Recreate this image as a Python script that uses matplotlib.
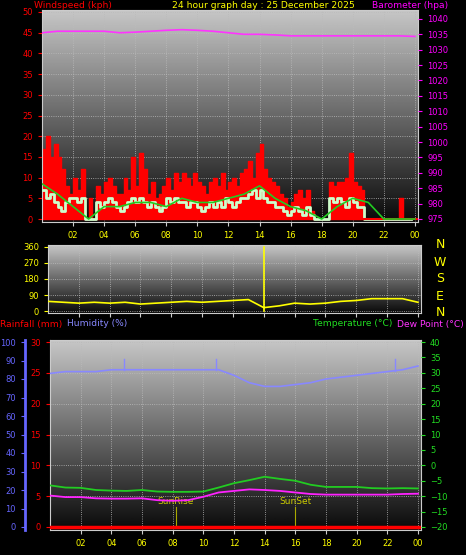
import matplotlib.pyplot as plt
import numpy as np

# wind, 15 minute samples (kph)
gust = [17,20,15,18, 15,12,8,6, 10,7,12,0, 5,0,8,6, 9,10,8,6, 6,10,7,15,
        8,16,12,6, 9,5,6,8, 10,7,11,9, 11,10,8,11, 9,8,6,9, 10,8,11,7,
        9,10,8,11, 12,14,10,16, 18,12,10,9, 8,6,5,3, 4,6,7,5, 7,2,0,0,
        0,0,9,8, 9,9,10,16, 9,8,7,0, 0,0,0,0, 0,0,0,0, 5,0,0,0]
speed = [7,5,6,4, 3,2,4,5, 5,4,5,0, 0,0,4,3, 4,5,4,3, 2,3,4,5,
         4,5,4,3, 4,3,2,3, 5,4,5,4, 4,3,4,4, 3,2,3,4, 3,4,3,5,
         4,3,4,5, 5,6,7,5, 7,5,4,4, 3,3,2,1, 2,3,2,1, 3,1,0,0,
         0,0,5,4, 5,4,3,5, 4,3,3,0, 0,0,0,0, 0,0,0,0, 0,0,0,0]
avg_wind = [8.5,6,3,0,3,3,4,4,3,5,4,4,5,6,8,5,3,2,0,3,5,4,0,0,0]
baro = [1035.5,1036,1036,1036,1036,1035.5,1035.7,1036,1036.3,1036.5,1036.3,1036,1035.5,1035,1035,1034.8,
        1034.5,1034.5,1034.5,1034.5,1034.5,1034.5,1034.5,1034.5,1034.3]
wdir = [55,50,45,50,45,50,40,45,50,55,50,55,60,65,20,30,45,40,45,55,60,70,70,70,50]
humidity = [83,84,84,84,85,85,85,85,85,85,85,85,82,78,76,76,77,78,80,81,82,83,84,85,87]
temp = [-6.5,-7.2,-7.3,-8,-8.2,-8.3,-8,-8.5,-8.6,-8.6,-8.5,-7.2,-5.8,-4.8,-3.7,-4.4,-5,-6.3,-7,-7,-7,-7.4,-7.5,-7.4,-7.5]
dew = [-9.8,-10.3,-10.3,-10.7,-10.8,-10.8,-10.7,-11.3,-11.5,-11.3,-10.2,-8.8,-8.3,-7.8,-8,-8.3,-8.8,-9.3,-9.5,-9.5,-9.5,-9.5,-9.5,-9.3,-9.2]
hum_spikes = [4.8, 10.8, 22.5]
hour_labels = ['02','04','06','08','10','12','14','16','18','20','22','00']

W, H = 466, 555
fig = plt.figure(figsize=(W/100, H/100), dpi=100, facecolor='black')
plt.rcParams['font.family'] = 'DejaVu Sans'
FS = 6.6

def box(l, t, r, b):
    return fig.add_axes([l/W, 1-b/H, (r-l)/W, (b-t)/H])

grad = np.linspace(0, 1, 256).reshape(-1, 1)

def style(ax, tickcol):
    ax.imshow(grad, extent=[0, 1, 0, 1], transform=ax.transAxes, cmap='gray', vmin=-0.05, vmax=1.3,
              aspect='auto', origin='lower', zorder=0)
    ax.set_xlim(0, 24.2)
    ax.set_xticks(range(2, 25, 2))
    ax.set_xticks(range(0, 25), minor=True)
    ax.grid(True, color='#bbbbbb', lw=0.6, ls=':')
    for s in ax.spines.values():
        s.set_color('#cccccc')
    ax.tick_params(colors=tickcol, labelsize=6, length=3)
    ax.tick_params(axis='x', colors='#cccccc', labelcolor='yellow')

t15 = np.arange(len(gust)) * 0.25
th = np.arange(25)

# top: wind + barometer
ax1 = box(42, 10, 418, 222)
style(ax1, 'red')
ax1.set_xticklabels(hour_labels)
ax1.fill_between(t15, gust, step='post', color='red', zorder=2)
ax1.step(t15, speed, where='post', color='#ccffcc', lw=2, zorder=3)
ax1.plot(th, avg_wind, color='#22cc22', lw=1.2, zorder=4)
ax1.set_ylim(-0.72, 50.48)
ax1.set_yticks(range(0, 51, 5))
ax1.tick_params(axis='y', labelcolor='red')
ax1.axhline(0, color='red', lw=1.5, xmin=0.83, zorder=3)
ax1b = ax1.twinx()
ax1b.plot(th, baro, color='#ff33ff', lw=1.2)
ax1b.set_ylim(974.0, 1042.9)
ax1b.set_yticks(range(975, 1041, 5))
ax1b.tick_params(colors='#ff00ff', labelsize=6, length=3)
for s in ax1b.spines.values():
    s.set_visible(False)

fig.text(34/W, 1-6/H, 'Windspeed (kph)', color='red', fontsize=FS, va='center')
fig.text(172/W, 1-6/H, '24 hour graph day : 25 December 2025', color='yellow', fontsize=FS, va='center')
fig.text(372/W, 1-6/H, 'Barometer (hpa)', color='#ff00ff', fontsize=FS, va='center')

# middle: wind direction
ax2 = box(48, 245, 421, 313)
style(ax2, 'yellow')
ax2.set_xticklabels([])
ax2.plot(th, wdir, color='yellow', lw=1.2, zorder=3)
ax2.plot([14, 14], [0, 360], color='yellow', lw=1.2, zorder=3)
ax2.set_ylim(-10, 370)
ax2.set_yticks(range(0, 361, 90))
ax2.tick_params(axis='y', labelcolor='yellow')
for i, c in enumerate('NWSEN'):
    fig.text(440/W, 1-(245+i*17)/H, c, color='yellow', fontsize=9, ha='center', va='center')

fig.text(0, 1-324/H, 'Rainfall (mm)', color='red', fontsize=FS, va='center')
fig.text(67/W, 1-324/H, 'Humidity (%)', color='#8888ff', fontsize=FS, va='center')
fig.text(392/W, 1-324/H, 'Temperature (°C)', color='#22dd22', fontsize=FS, va='center', ha='right')
fig.text(464/W, 1-324/H, 'Dew Point (°C)', color='#ff33ff', fontsize=FS, va='center', ha='right')

# bottom: rain, humidity, temperature
ax3 = box(50, 340, 421, 530)
style(ax3, 'red')
ax3.set_xticklabels(hour_labels)
ax3.set_ylim(-30 * 3/185, 30 + 30 * 2/185)
ax3.set_yticks(range(0, 31, 5))
ax3.tick_params(axis='y', labelcolor='red')
ax3.axhline(0, color='red', lw=2.5, zorder=5)
for x, lab in [(8.2, 'SunRise'), (16.0, 'SunSet')]:
    ax3.plot([x, x], [0, 3.3], color='#aaaa00', lw=0.8, zorder=4)
    ax3.text(x, 3.7, lab, color='#cccc00', fontsize=6.5, ha='center', zorder=4)

axh = ax3.twinx()
axh.spines['left'].set_position(('outward', 18))
axh.yaxis.set_ticks_position('left')
axh.spines['left'].set_color('#6666ff')
axh.spines['left'].set_linewidth(2)
for k in ('right', 'top', 'bottom'):
    axh.spines[k].set_visible(False)
axh.set_ylim(-100 * 3/185, 100 + 100 * 2/185)
axh.set_yticks(range(0, 101, 10))
axh.tick_params(colors='#6666ff', labelsize=6, length=3)
axh.plot(th, humidity, color='#8888ff', lw=1.2)
for x in hum_spikes:
    h = np.interp(x, th, humidity)
    axh.plot([x, x], [h, 91], color='#8888ff', lw=1)

axt = ax3.twinx()
for s in axt.spines.values():
    s.set_visible(False)
axt.set_ylim(-20 - 60 * 3/185, 40 + 60 * 2/185)
axt.set_yticks(range(-20, 41, 5))
axt.tick_params(colors='#22dd22', labelsize=6, length=3)
axt.plot(th, temp, color='#22cc22', lw=1.3)
axt.plot(th, dew, color='#ff22ff', lw=1.3)

fig.savefig('out.png', dpi=100, facecolor='black')
